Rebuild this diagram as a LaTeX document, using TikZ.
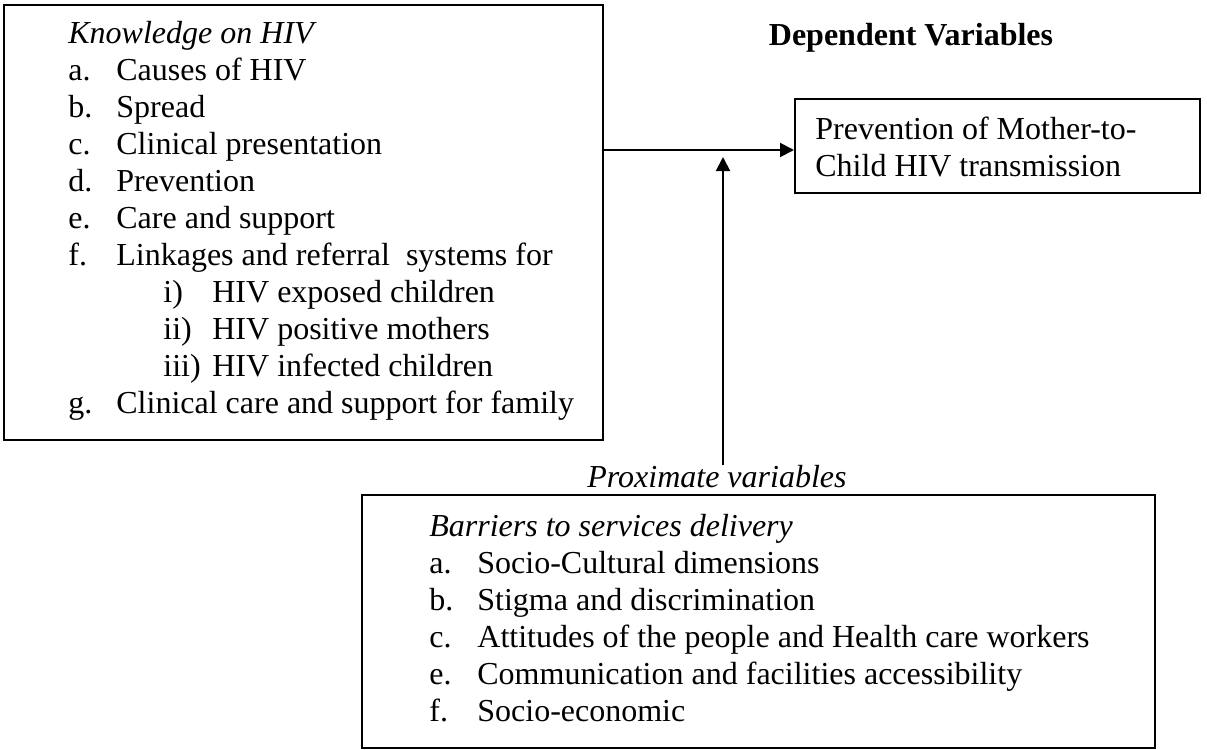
\documentclass[tikz,border=0pt]{standalone}
\usepackage{fontspec}
\setmainfont{Liberation Serif}
\usetikzlibrary{arrows.meta, positioning}

\newcommand{\itm}[2]{\makebox[24pt][l]{#1}#2}
\newcommand{\subitm}[2]{\hspace*{47.5pt}\makebox[24.5pt][l]{#1}#2}

\begin{document}
\begin{tikzpicture}[x=0.5pt, y=-0.5pt,
  box/.style={rectangle, draw=black, line width=1pt},
  list/.style={align=left, inner sep=0pt, font=\fontsize{16}{18.5}\selectfont},
  arr/.style={line width=1pt, -{Triangle[length=7pt, width=7pt]}}]
\useasboundingbox (0,0) rectangle (1207,750);

% independent variables
\node (knowbox)[box, minimum width=299.5pt, minimum height=217.5pt] at (303.5,222.5) {};
\node (knowtext)[list, below right=8.5pt and 32.5pt of knowbox.north west] {\textit{Knowledge on HIV}\\
\itm{a.}{Causes of HIV}\\
\itm{b.}{Spread}\\
\itm{c.}{Clinical presentation}\\
\itm{d.}{Prevention}\\
\itm{e.}{Care and support}\\
\itm{f.}{Linkages and referral\ \ systems for}\\
\subitm{i)}{HIV exposed children}\\
\subitm{ii)}{HIV positive mothers}\\
\subitm{iii)}{HIV infected children}\\
\itm{g.}{Clinical care and support for family}};

% dependent variable
\node (deplabel)[font=\fontsize{16}{18.5}\selectfont\bfseries] at (911,38) {Dependent Variables};
\node (pmtctbox)[box, minimum width=202.5pt, minimum height=47pt] at (997.5,146) {};
\node (pmtcttext)[list, below right=9.5pt and 10.5pt of pmtctbox.north west] {Prevention of Mother-to-\\Child HIV transmission};

% proximate variables
\node (proxlabel)[font=\fontsize{16}{18.5}\selectfont\itshape] at (717,477) {Proximate variables};
\node (barrierbox)[box, minimum width=396.5pt, minimum height=126.5pt] at (758.5,621.5) {};
\node (barriertext)[list, below right=10pt and 34pt of barrierbox.north west] {\textit{Barriers to services delivery}\\
\itm{a.}{Socio-Cultural dimensions}\\
\itm{b.}{Stigma and discrimination}\\
\itm{c.}{Attitudes of the people and Health care workers}\\
\itm{e.}{Communication and facilities accessibility}\\
\itm{f.}{Socio-economic}};

\coordinate (proxfoot) at (723,465);
\coordinate (proxtip) at (723,157);

\draw[arr] ([yshift=-2pt]knowbox.east |- pmtctbox.west) -- ([yshift=-2pt]pmtctbox.west);
\draw[arr] (proxfoot) -- (proxtip);

\end{tikzpicture}
\end{document}
